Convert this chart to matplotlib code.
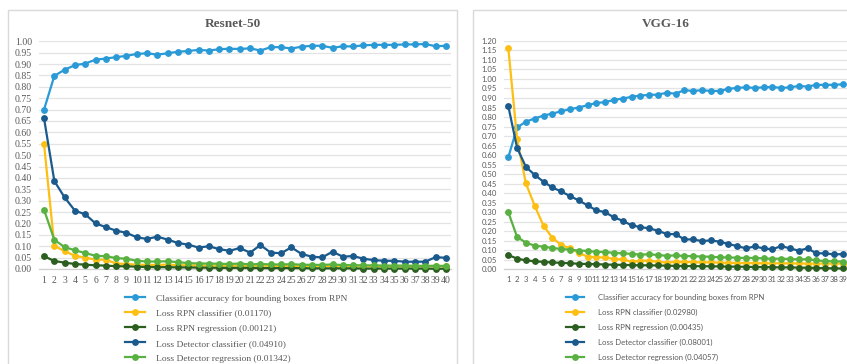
import matplotlib
matplotlib.use("Agg")
import matplotlib.pyplot as plt
from matplotlib.patches import Rectangle

# ---------------- data ----------------
epochs_resnet = list(range(1, 41))
epochs_vgg = list(range(1, 40))

series_names = [
    "Classifier accuracy for bounding boxes from RPN",
    "Loss RPN classifier",
    "Loss RPN regression",
    "Loss Detector classifier",
    "Loss Detector regression",
]

resnet_acc = [0.700, 0.848, 0.875, 0.895, 0.902, 0.919, 0.924, 0.930, 0.936, 0.944,
              0.947, 0.941, 0.947, 0.954, 0.957, 0.962, 0.959, 0.965, 0.967, 0.966,
              0.969, 0.959, 0.974, 0.974, 0.968, 0.976, 0.980, 0.980, 0.971, 0.978,
              0.977, 0.982, 0.984, 0.984, 0.984, 0.986, 0.986, 0.988, 0.978, 0.980]
resnet_rpn_cls = [0.547, 0.102, 0.078, 0.058, 0.050, 0.041, 0.041, 0.024, 0.022, 0.019,
                  0.018, 0.018, 0.019, 0.017, 0.016, 0.015, 0.015, 0.015, 0.014, 0.015,
                  0.014, 0.015, 0.014, 0.014, 0.014, 0.013, 0.013, 0.013, 0.014, 0.013,
                  0.013, 0.012, 0.012, 0.012, 0.012, 0.012, 0.012, 0.012, 0.012, 0.01170]
resnet_rpn_reg = [0.056, 0.035, 0.028, 0.022, 0.019, 0.016, 0.015, 0.012, 0.012, 0.010,
                  0.009, 0.008, 0.008, 0.007, 0.007, 0.006, 0.006, 0.005, 0.005, 0.005,
                  0.005, 0.004, 0.004, 0.004, 0.004, 0.004, 0.003, 0.003, 0.003, 0.003,
                  0.003, 0.002, 0.002, 0.002, 0.002, 0.002, 0.002, 0.002, 0.001, 0.00121]
resnet_det_cls = [0.661, 0.386, 0.314, 0.256, 0.240, 0.200, 0.184, 0.168, 0.159, 0.139,
                  0.132, 0.142, 0.129, 0.114, 0.107, 0.094, 0.100, 0.087, 0.080, 0.092,
                  0.072, 0.105, 0.072, 0.069, 0.095, 0.066, 0.054, 0.051, 0.076, 0.054,
                  0.057, 0.045, 0.039, 0.036, 0.036, 0.032, 0.032, 0.032, 0.052, 0.04910]
resnet_det_reg = [0.260, 0.128, 0.096, 0.082, 0.070, 0.058, 0.056, 0.048, 0.045, 0.036,
                  0.033, 0.033, 0.034, 0.030, 0.026, 0.024, 0.024, 0.023, 0.022, 0.024,
                  0.020, 0.022, 0.020, 0.020, 0.021, 0.019, 0.018, 0.018, 0.020, 0.017,
                  0.017, 0.016, 0.016, 0.015, 0.015, 0.015, 0.014, 0.014, 0.014, 0.01342]

vgg_acc = [0.588, 0.745, 0.776, 0.792, 0.808, 0.818, 0.830, 0.841, 0.850, 0.862,
           0.874, 0.878, 0.890, 0.897, 0.906, 0.913, 0.916, 0.918, 0.927, 0.923,
           0.941, 0.937, 0.941, 0.937, 0.937, 0.948, 0.953, 0.956, 0.953, 0.956,
           0.958, 0.953, 0.956, 0.963, 0.960, 0.969, 0.969, 0.969, 0.972]
vgg_rpn_cls = [1.163, 0.684, 0.451, 0.334, 0.229, 0.166, 0.128, 0.110, 0.087, 0.066,
               0.063, 0.062, 0.054, 0.052, 0.040, 0.045, 0.045, 0.040, 0.035, 0.040,
               0.038, 0.038, 0.036, 0.037, 0.035, 0.034, 0.033, 0.033, 0.032, 0.032,
               0.031, 0.032, 0.031, 0.031, 0.030, 0.030, 0.030, 0.030, 0.02980]
vgg_rpn_reg = [0.075, 0.056, 0.047, 0.042, 0.039, 0.036, 0.034, 0.032, 0.029, 0.028,
               0.027, 0.025, 0.024, 0.023, 0.022, 0.021, 0.021, 0.020, 0.019, 0.018,
               0.017, 0.017, 0.016, 0.016, 0.015, 0.014, 0.014, 0.013, 0.012, 0.012,
               0.011, 0.010, 0.010, 0.009, 0.008, 0.007, 0.006, 0.005, 0.00435]
vgg_det_cls = [0.857, 0.638, 0.538, 0.496, 0.460, 0.430, 0.409, 0.385, 0.362, 0.336,
               0.310, 0.300, 0.273, 0.255, 0.231, 0.222, 0.215, 0.203, 0.185, 0.185,
               0.157, 0.157, 0.148, 0.152, 0.145, 0.133, 0.122, 0.110, 0.120, 0.110,
               0.105, 0.122, 0.110, 0.098, 0.110, 0.084, 0.084, 0.078, 0.08001]
vgg_det_reg = [0.300, 0.170, 0.140, 0.124, 0.119, 0.112, 0.107, 0.103, 0.098, 0.097,
               0.091, 0.091, 0.086, 0.084, 0.081, 0.077, 0.079, 0.075, 0.071, 0.073,
               0.070, 0.069, 0.067, 0.066, 0.063, 0.062, 0.061, 0.059, 0.060, 0.057,
               0.055, 0.056, 0.054, 0.052, 0.053, 0.047, 0.043, 0.042, 0.04057]

colors = ["#2A9AD6", "#FDBF13", "#2B5F1F", "#1A5A8C", "#58B140"]
TEXT = "#595959"
GRID = "#E3E3E3"

W, H = 847, 364
fig = plt.figure(figsize=(W / 100, H / 100), dpi=100)


def fx(x):
    return x / W


def fy(y):
    return 1 - y / H


# chart-area frames
for x0, x1 in [(8, 457), (473, 900)]:
    fig.patches.append(Rectangle((fx(x0), fy(400)), fx(x1 - x0), (400 - 10) / H,
                                 transform=fig.transFigure, fill=False,
                                 edgecolor="#D9D9D9", linewidth=1.0))


def draw_panel(rect, epochs, series, ymax, font, fsize, title, title_x,
               legend_x, legend_fs, handle_len, text_pad, spacing):
    ax = fig.add_axes(rect)
    for vals, col, name in zip(series, colors, series_names):
        label = name if name.startswith("Classifier") else f"{name} ({vals[-1]:.5f})"
        ax.plot(epochs, vals, color=col, lw=1.6, marker="o", ms=3.9,
                mec=col, mfc=col, label=label, clip_on=False, zorder=3)
    ax.set_xlim(0.5, len(epochs) + 0.5)
    ax.set_ylim(0, ymax + 0.001)
    yt = [i * 0.05 for i in range(int(round(ymax / 0.05)) + 1)]
    ax.set_yticks(yt)
    ax.set_yticklabels([f"{v:.2f}" for v in yt], family=font, fontsize=fsize, color=TEXT)
    ax.set_xticks(epochs)
    ax.set_xticklabels([str(e) for e in epochs], family=font, fontsize=fsize, color=TEXT)
    ax.tick_params(length=0, pad=5)
    ax.grid(axis="y", color=GRID, lw=0.9, zorder=0)
    ax.set_axisbelow(True)
    for s in ["top", "right", "left"]:
        ax.spines[s].set_visible(False)
    ax.spines["bottom"].set_color("#D0D0D0")
    ax.spines["bottom"].set_linewidth(0.9)
    fig.text(fx(title_x), fy(24), title, ha="center", va="center",
             family="Liberation Serif", fontweight="bold", fontsize=9.5, color=TEXT)
    handles, labels = ax.get_legend_handles_labels()
    leg = fig.legend(handles, labels, loc="upper left",
                     bbox_to_anchor=(fx(legend_x), fy(294)),
                     frameon=False, borderpad=0, borderaxespad=0,
                     handlelength=handle_len, handletextpad=text_pad,
                     labelspacing=spacing, prop={"family": font, "size": legend_fs})
    for t in leg.get_texts():
        t.set_color(TEXT)
    return ax


draw_panel([fx(38.9), fy(269), (451 - 38.9) / W, 228 / H],
           epochs_resnet,
           [resnet_acc, resnet_rpn_cls, resnet_rpn_reg, resnet_det_cls, resnet_det_reg],
           1.00, "Liberation Serif", 7, "Resnet-50", 233, 125, 6.8, 2.1, 1.2, 0.68)

draw_panel([fx(503.9), fy(269.3), (847.1 - 503.9) / W, 228.6 / H],
           epochs_vgg,
           [vgg_acc, vgg_rpn_cls, vgg_rpn_reg, vgg_det_cls, vgg_det_reg],
           1.20, "Lato", 5.6, "VGG-16", 666, 566, 5.6, 2.3, 1.8, 1.0)

fig.savefig("out.png", dpi=100, facecolor="white")
